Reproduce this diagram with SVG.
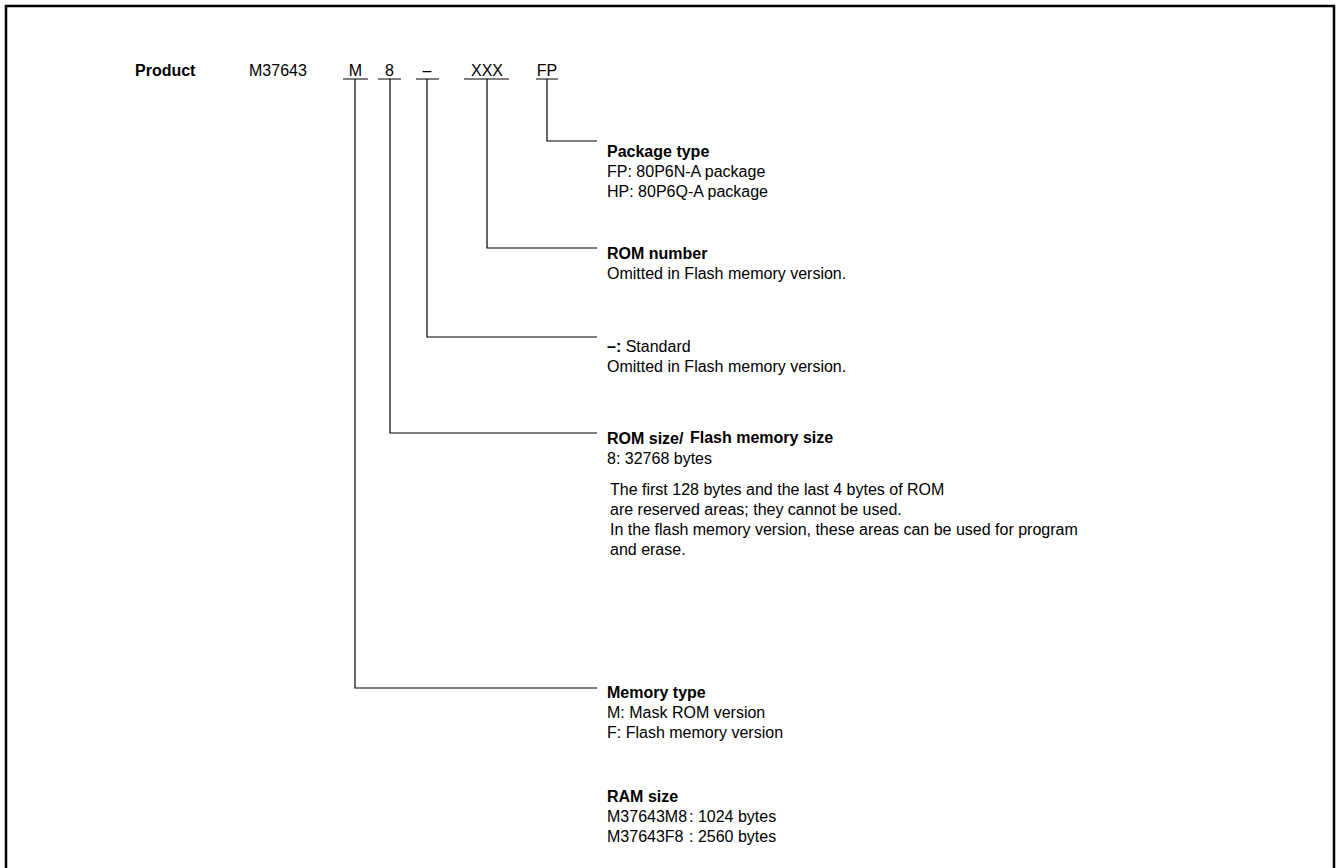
<svg xmlns="http://www.w3.org/2000/svg" width="1337" height="868" viewBox="0 0 1337 868">
<style>
text{font-family:"Liberation Sans",Arial,sans-serif;font-size:16px;fill:#000}
.b{font-weight:bold}
.ln{stroke:#000;stroke-width:1.2;fill:none}
</style>
<rect x="0" y="0" width="1337" height="868" fill="#fff"/>
<rect x="6" y="6" width="1328" height="880" fill="none" stroke="#000" stroke-width="2.5"/>
<g id="product">
<text class="b" x="135" y="76">Product</text>
<text x="249" y="76">M37643</text>
<text x="355.5" y="76" text-anchor="middle">M</text>
<text x="389.5" y="76" text-anchor="middle">8</text>
<text x="427" y="76" text-anchor="middle">–</text>
<text x="487" y="76" text-anchor="middle">XXX</text>
<text x="547" y="76" text-anchor="middle">FP</text>
</g>
<g id="connectors" class="ln">
<path d="M343 79H368M378 79H401M416 79H439M464 79H509M536 79H558"/>
<path d="M547 79V141H597"/>
<path d="M487 79V248H597"/>
<path d="M427 79V337H597"/>
<path d="M390 79V433H597"/>
<path d="M355 79V688H597"/>
</g>
<g id="package-type">
<text class="b" x="607" y="157">Package type</text>
<text x="607" y="177">FP: 80P6N-A package</text>
<text x="607" y="197">HP: 80P6Q-A package</text>
</g>
<g id="rom-number">
<text class="b" x="607" y="259">ROM number</text>
<text x="607" y="279">Omitted in Flash memory version.</text>
</g>
<g id="standard">
<text x="607" y="352"><tspan class="b">–:</tspan> Standard</text>
<text x="607" y="372">Omitted in Flash memory version.</text>
</g>
<g id="rom-size">
<text class="b" x="607" y="444">ROM size/</text>
<text class="b" x="690" y="443">Flash memory size</text>
<text x="607" y="464">8: 32768 bytes</text>
<text x="610" y="495">The first 128 bytes and the last 4 bytes of ROM</text>
<text x="610" y="515">are reserved areas; they cannot be used.</text>
<text x="610" y="535">In the flash memory version, these areas can be used for program</text>
<text x="610" y="555">and erase.</text>
</g>
<g id="memory-type">
<text class="b" x="607" y="698">Memory type</text>
<text x="607" y="718">M: Mask ROM version</text>
<text x="607" y="738">F: Flash memory version</text>
</g>
<g id="ram-size">
<text class="b" x="607" y="802">RAM size</text>
<text x="607" y="822">M37643M8<tspan x="689">: 1024 bytes</tspan></text>
<text x="607" y="842">M37643F8<tspan x="689">: 2560 bytes</tspan></text>
</g>
</svg>
